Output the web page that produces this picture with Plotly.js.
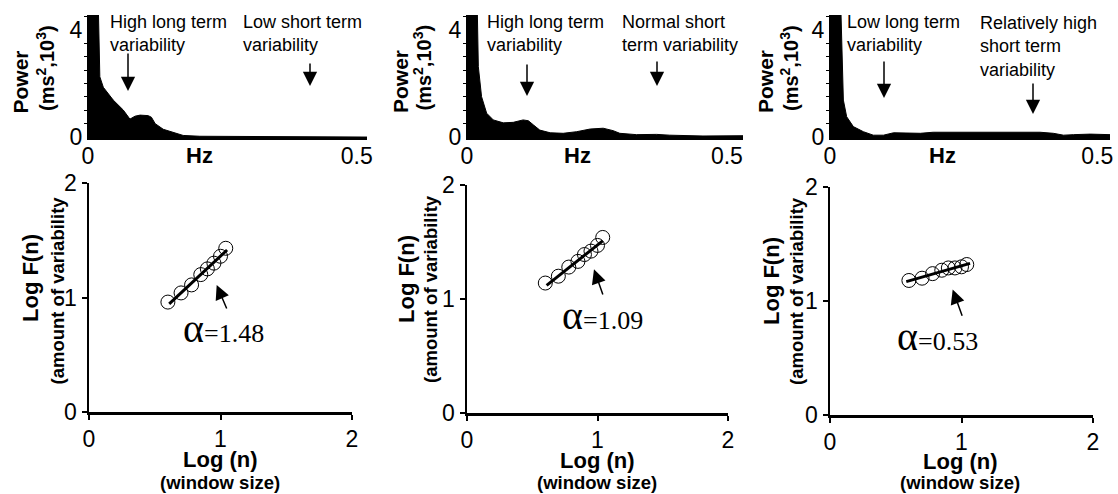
<!DOCTYPE html>
<html>
<head>
<meta charset="utf-8">
<script src="https://cdn.plot.ly/plotly-3.0.1.min.js"></script>
<style>html,body{margin:0;padding:0;background:#fff;}#chart{width:1118px;height:494px;}</style>
</head>
<body>
<div id="chart"></div>
<script>
// ---------- DATA ----------
// Power spectra (Hz, power in ms^2 x 10^3); the first peak is clipped above the axis top
const hz1 = [0, 0.018, 0.022, 0.0285, 0.047, 0.0656, 0.078, 0.0875, 0.097, 0.112, 0.118, 0.125, 0.140, 0.159, 0.177, 0.208, 0.332, 0.456, 0.519];
const pw1 = [6, 6, 2.25, 1.86, 1.38, 1.01, 0.67, 0.78, 0.82, 0.80, 0.74, 0.50, 0.29, 0.16, 0.06, 0.03, 0.02, 0.0, 0.0];
const hz2 = [0, 0.0186, 0.0218, 0.028, 0.0378, 0.0506, 0.0699, 0.089, 0.108, 0.118, 0.128, 0.140, 0.160, 0.185, 0.211, 0.237, 0.262, 0.281, 0.294, 0.326, 0.365, 0.390, 0.454, 0.531];
const pw2 = [6, 6, 2.63, 1.51, 0.89, 0.64, 0.53, 0.55, 0.64, 0.61, 0.45, 0.26, 0.16, 0.14, 0.20, 0.30, 0.33, 0.24, 0.14, 0.09, 0.10, 0.07, 0.04, 0.05];
const hz3 = [0, 0.0187, 0.025, 0.0312, 0.0437, 0.0625, 0.081, 0.100, 0.119, 0.144, 0.169, 0.193, 0.218, 0.268, 0.331, 0.393, 0.418, 0.437, 0.456, 0.487, 0.524];
const pw3 = [6, 6, 1.38, 0.76, 0.39, 0.20, 0.07, 0.07, 0.16, 0.14, 0.14, 0.18, 0.18, 0.20, 0.20, 0.18, 0.14, 0.07, 0.09, 0.11, 0.09];

// DFA: log window size vs log F(n)
const logN = [0.60, 0.70, 0.78, 0.85, 0.90, 0.95, 1.00, 1.04];
const logF1 = [0.96, 1.04, 1.11, 1.20, 1.25, 1.30, 1.36, 1.43];
const logF2 = [1.14, 1.20, 1.28, 1.33, 1.39, 1.42, 1.47, 1.54];
const logF3 = [1.18, 1.20, 1.24, 1.27, 1.29, 1.29, 1.30, 1.32];
// fitted regression lines (end points)
const fitX1 = [0.61, 1.05], fitY1 = [0.945, 1.415];
const fitX2 = [0.61, 1.04], fitY2 = [1.12, 1.51];
const fitX3 = [0.58, 1.065], fitY3 = [1.17, 1.33];
const alphas = ['1.48', '1.09', '0.53'];

const topNotes = [
  ['High long term<br>variability', 'Low short term<br>variability'],
  ['High long term<br>variability', 'Normal short<br>term variability'],
  ['Low long term<br>variability', 'Relatively high<br>short term<br>variability']
];
const xTopTicks = ['0', '0.5'];

// ---------- LAYOUT HELPERS ----------
const W = 1118, H = 494;
const px = x => x / W;
const py = y => 1 - y / H;
const SANS = 'Liberation Sans, Arial, Helvetica, sans-serif';
const SERIF = 'Liberation Serif, Times New Roman, serif';
const TOP_YR = [-0.11, 4.56];

const traces = [];
function spectrum(hz, pw, xa, ya) {
  traces.push({x: [0, hz[hz.length - 1]], y: [TOP_YR[0], TOP_YR[0]], xaxis: xa, yaxis: ya,
    mode: 'lines', line: {width: 0, color: '#000'}, hoverinfo: 'skip'});
  traces.push({x: hz, y: pw, xaxis: xa, yaxis: ya, mode: 'lines', fill: 'tonexty',
    fillcolor: '#000', line: {width: 1, color: '#000'}});
}
function dfa(lx, ly, fx, fy, xa, ya) {
  traces.push({x: lx, y: ly, xaxis: xa, yaxis: ya, mode: 'markers',
    marker: {symbol: 'circle-open', size: 14, color: '#000', line: {width: 1, color: '#000'}}});
  traces.push({x: fx, y: fy, xaxis: xa, yaxis: ya, mode: 'lines', line: {width: 3, color: '#000'}});
}
spectrum(hz1, pw1, 'x', 'y');
spectrum(hz2, pw2, 'x2', 'y2');
spectrum(hz3, pw3, 'x3', 'y3');
dfa(logN, logF1, fitX1, fitY1, 'x4', 'y4');
dfa(logN, logF2, fitX2, fitY2, 'x5', 'y5');
dfa(logN, logF3, fitX3, fitY3, 'x6', 'y6');

const tickFont = {family: SANS, size: 23, color: '#000'};
function topX(d0, d1, xmax, anchor) {
  return {domain: [px(d0), px(d1)], range: [0, xmax], anchor: anchor, tickmode: 'array',
    tickvals: [0, 0.5], ticktext: xTopTicks, showline: false, ticks: '', showgrid: false,
    zeroline: false, tickfont: tickFont, fixedrange: true};
}
function topY(anchor) {
  return {domain: [py(140), py(15)], range: TOP_YR, anchor: anchor, tick0: 0, dtick: 4,
    showline: true, linewidth: 1, linecolor: '#000', ticks: '', showgrid: false, zeroline: false,
    minor: {ticks: 'outside', ticklen: 3, tickwidth: 1, tickcolor: '#000', dtick: 0.5, showgrid: false},
    tickfont: tickFont, fixedrange: true};
}
function botX(d0, d1, anchor) {
  return {domain: [px(d0), px(d1)], range: [0, 2], anchor: anchor, dtick: 1, tick0: 0,
    showline: true, linewidth: 2.5, linecolor: '#000', ticks: 'outside', ticklen: 5, tickwidth: 2,
    tickcolor: '#000', showgrid: false, zeroline: false, tickfont: tickFont, fixedrange: true};
}
function botY(b, t, anchor) {
  return {domain: [py(b), py(t)], range: [0, 2], anchor: anchor, dtick: 1, tick0: 0,
    showline: true, linewidth: 2.5, linecolor: '#000', ticks: 'outside', ticklen: 5, tickwidth: 2,
    tickcolor: '#000', showgrid: false, zeroline: false, tickfont: tickFont, fixedrange: true};
}

const ann = [];
function txt(text, x, y, size, opts) {
  ann.push(Object.assign({text: text, xref: 'paper', yref: 'paper', x: px(x), y: py(y),
    xanchor: 'center', yanchor: 'middle', showarrow: false,
    font: {family: SANS, size: size, color: '#000'}}, opts || {}));
}
function note(text, x, y) {
  txt(text, x, y, 18, {xanchor: 'left', align: 'left'});
}
function topArrow(x, head, tail) {
  ann.push({text: '', xref: 'paper', yref: 'paper', x: px(x), y: py(head), axref: 'pixel', ayref: 'pixel',
    ax: 0, ay: -(head - tail), showarrow: true, arrowhead: 2, arrowsize: 1.9, arrowwidth: 1.5, arrowcolor: '#000'});
}
function botArrow(xa, ya, hx, hy, tx, ty) {
  ann.push({text: '', xref: xa, yref: ya, x: hx, y: hy, axref: xa, ayref: ya, ax: tx, ay: ty,
    showarrow: true, arrowhead: 2, arrowsize: 1.9, arrowwidth: 1.5, arrowcolor: '#000'});
}
function alphaLabel(xa, ya, x, y, val) {
  ann.push({text: '<span style="font-size:40px">α</span>=' + val, xref: xa, yref: ya, x: x, y: y,
    xanchor: 'center', yanchor: 'middle', showarrow: false, font: {family: SERIF, size: 26, color: '#000'}});
}

// Top panel titles
const topTitleX = [[19.5, 46], [400, 422.5], [765, 790]];
topTitleX.forEach(p => {
  txt('<b>Power</b>', p[0], 82, 21, {textangle: -90});
  txt('<b>(ms<sup>2</sup>,10<sup>3</sup>)</b>', p[1], 68, 20, {textangle: -90});
});
[199, 577, 942].forEach(x => txt('<b>Hz</b>', x, 155, 22));

note(topNotes[0][0], 108, 33.5); note(topNotes[0][1], 241, 33.5);
note(topNotes[1][0], 485, 33.5); note(topNotes[1][1], 620, 33.5);
note(topNotes[2][0], 845, 33.5); note(topNotes[2][1], 978, 47);
topArrow(128, 91, 52); topArrow(310, 86, 62);
topArrow(527, 96, 63); topArrow(657, 86, 60);
topArrow(884, 98, 60); topArrow(1033, 114, 82);

// Bottom panel titles
[[30, 56.5, 278, 291, 220, 459, 482], [406, 430, 279, 289, 597, 460, 482], [771, 796, 281, 291, 960, 461, 482]].forEach(p => {
  txt('<b>Log F(n)</b>', p[0], p[2], 22, {textangle: -90});
  txt('<b>(amount of variability</b>', p[1], p[3], 18.5, {textangle: -90});
  txt('<b>Log (n)</b>', p[4], p[5], 22);
  txt('<b>(window size)</b>', p[4], p[6], 18.5);
});
botArrow('x4', 'y4', 0.971, 1.109, 1.052, 0.891);
botArrow('x5', 'y5', 0.973, 1.26, 1.045, 1.026);
botArrow('x6', 'y6', 0.933, 1.10, 1.009, 0.857);
alphaLabel('x4', 'y4', 1.019, 0.725, alphas[0]);
alphaLabel('x5', 'y5', 1.038, 0.851, alphas[1]);
alphaLabel('x6', 'y6', 0.82, 0.689, alphas[2]);

const layout = {
  width: W, height: H, margin: {l: 0, r: 0, t: 0, b: 0},
  paper_bgcolor: '#fff', plot_bgcolor: 'rgba(0,0,0,0)', showlegend: false,
  font: {family: SANS, color: '#000'},
  xaxis: topX(88, 367, 0.519, 'y'), yaxis: topY('x'),
  xaxis2: topX(467, 743, 0.531, 'y2'), yaxis2: topY('x2'),
  xaxis3: topX(830, 1110, 0.524, 'y3'), yaxis3: topY('x3'),
  xaxis4: botX(89, 352, 'y4'), yaxis4: botY(412, 183, 'x4'),
  xaxis5: botX(467, 728, 'y5'), yaxis5: botY(413, 185, 'x5'),
  xaxis6: botX(830, 1093, 'y6'), yaxis6: botY(415, 187, 'x6'),
  annotations: ann
};
Plotly.newPlot('chart', traces, layout, {staticPlot: true, displayModeBar: false});
</script>
</body>
</html>
